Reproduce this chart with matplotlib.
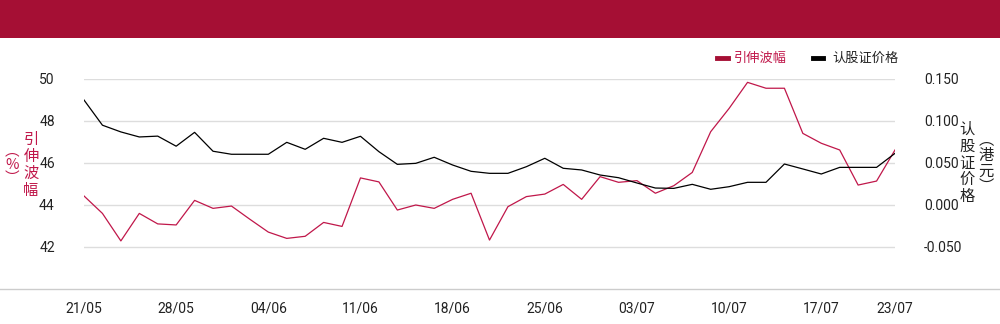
import matplotlib
matplotlib.use("Agg")
import matplotlib.pyplot as plt
from matplotlib.lines import Line2D
from matplotlib.patches import Rectangle

plt.rcParams['font.family'] = ['Roboto', 'Noto Sans CJK SC', 'DejaVu Sans']

# ---- data ----
date_labels = ["21/05", "28/05", "04/06", "11/06", "18/06", "25/06", "03/07", "10/07", "17/07", "23/07"]
label_idx = [0, 5, 10, 15, 20, 25, 30, 35, 40, 44]

implied_vol = [44.43, 43.60, 42.29, 43.60, 43.10, 43.05, 44.22, 43.84, 43.95, 43.32,
               42.71, 42.41, 42.51, 43.17, 42.98, 45.29, 45.10, 43.76, 44.00, 43.84,
               44.27, 44.56, 42.33, 43.92, 44.40, 44.52, 44.98, 44.27, 45.35, 45.08,
               45.16, 44.56, 44.92, 45.55, 47.49, 48.60, 49.84, 49.56, 49.56, 47.41,
               46.94, 46.62, 44.95, 45.14, 46.62]

warrant_price = [0.125, 0.095, 0.087, 0.081, 0.082, 0.070, 0.0865, 0.064, 0.0604, 0.0604,
                 0.0604, 0.0746, 0.0663, 0.0794, 0.0746, 0.0818, 0.0635, 0.0484, 0.0496, 0.0568,
                 0.0476, 0.0401, 0.0377, 0.0377, 0.0456, 0.0556, 0.0437, 0.0417, 0.0357, 0.0325,
                 0.0262, 0.0202, 0.0198, 0.0246, 0.0187, 0.0218, 0.0270, 0.0270, 0.0488, 0.0429,
                 0.0369, 0.0448, 0.0448, 0.0448, 0.0615]

left_ticks = [42, 44, 46, 48, 50]
right_ticks = [-0.05, 0.0, 0.05, 0.10, 0.15]

RED = '#A50F34'
LINE_RED = '#C0174A'
TXT = '#222222'
CJK = ['Noto Sans CJK SC', 'DejaVu Sans']

W, H = 1000, 324
fig = plt.figure(figsize=(W / 100, H / 100), dpi=100)

# header band
fig.add_artist(Rectangle((0, 1 - 37.5 / H), 1, 37.5 / H, transform=fig.transFigure,
                         facecolor=RED, edgecolor='none'))

ax = fig.add_axes([84 / W, 35 / H, 811 / W, 210 / H])
ax2 = ax.twinx()

x = list(range(len(implied_vol)))
ax.plot(x, implied_vol, color=LINE_RED, lw=0.9, zorder=3)
ax2.plot(x, warrant_price, color='black', lw=0.9, zorder=3)

ax.set_xlim(0, 44)
ax.set_ylim(40, 50)
ax2.set_ylim(-0.1, 0.15)

ax.set_yticks(left_ticks)
ax.set_yticklabels([str(t) for t in left_ticks])
ax2.set_yticks(right_ticks)
ax2.set_yticklabels([f"{t:.3f}" for t in right_ticks])
ax.set_xticks(label_idx)
ax.set_xticklabels(date_labels)

for a in (ax, ax2):
    for s in a.spines.values():
        s.set_visible(False)
    a.tick_params(length=0, labelsize=10, colors=TXT)
ax.tick_params(axis='y', pad=21)
ax2.tick_params(axis='y', pad=21)
ax.tick_params(axis='x', pad=9)
for lab in ax2.get_yticklabels():
    lab.set_ha('left')

ax.grid(axis='y', color='#DDDDDD', lw=1)
ax.set_axisbelow(True)
ax.patch.set_visible(False)

# bottom axis line full width
fig.add_artist(Line2D([0, 1], [35 / H, 35 / H], transform=fig.transFigure, color='#CCCCCC', lw=1))

# left axis label (vertical text)
fig.text(12 / W, 1 - 165 / H, "︵\n%\n︶", ha='center', va='center', color=LINE_RED, fontsize=10.5,
         family=CJK, linespacing=0.95)
fig.text(31 / W, 1 - 165 / H, "引\n伸\n波\n幅", ha='center', va='center', color=LINE_RED, fontsize=11,
         family=CJK, linespacing=0.98)

# right axis label (vertical text)
fig.text(967 / W, 1 - 163 / H, "认\n股\n证\n价\n格", ha='center', va='center', color=TXT, fontsize=11,
         family=CJK, linespacing=0.98)
fig.text(986 / W, 1 - 163 / H, "︵\n港\n元\n︶", ha='center', va='center', color=TXT, fontsize=11,
         family=CJK, linespacing=0.9)

# legend
ly = 1 - 58 / H
fig.add_artist(Line2D([717 / W, 728 / W], [ly, ly], transform=fig.transFigure, color=RED, lw=3.5))
fig.text(734 / W, ly, "引伸波幅", ha='left', va='center', color=LINE_RED, fontsize=9.5, family=CJK)
fig.add_artist(Line2D([813 / W, 823 / W], [ly, ly], transform=fig.transFigure, color='black', lw=3.5))
fig.text(832 / W, ly, "认股证价格", ha='left', va='center', color=TXT, fontsize=9.5, family=CJK)

fig.savefig("out.png", dpi=100)
